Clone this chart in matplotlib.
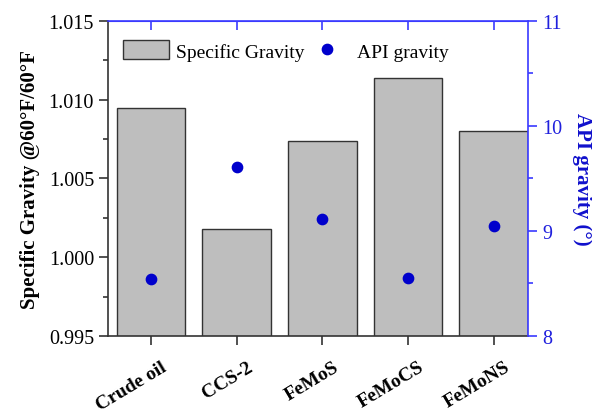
import matplotlib.pyplot as plt
import numpy as np

plt.rcParams['font.family'] = ['Liberation Serif', 'DejaVu Serif']

samples = ["Crude oil", "CCS-2", "FeMoS", "FeMoCS", "FeMoNS"]
specific_gravity = [1.00948, 1.00179, 1.00738, 1.01138, 1.00802]
api_gravity = [8.54, 9.61, 9.11, 8.55, 9.05]

blue = "#0000cc"
axis_blue = "#3a3aff"
dark = "#333333"

fig = plt.figure(figsize=(5.92, 4.14), dpi=100)
ax = fig.add_axes([0.1824, 0.186, 0.7095, 0.761])
x = np.arange(len(samples))

ax.bar(x, specific_gravity, width=0.8, color="#bebebe", edgecolor=dark,
       linewidth=1.0, label="Specific Gravity")
ax.set_ylim(0.995, 1.015)
ax.set_xlim(-0.5, 4.4)
ax.set_yticks([0.995, 1.000, 1.005, 1.010, 1.015])
ax.set_yticks(np.arange(0.9975, 1.015, 0.005), minor=True)
ax.yaxis.set_major_formatter(plt.FormatStrFormatter("%.3f"))
ax.set_xticks(x)
ax.set_xticklabels([])
# slanted category labels, shifted right of the tick like the original
for xi, name in zip(x, samples):
    ax.annotate(name, xy=(xi, 0), xycoords=("data", "axes fraction"),
                xytext=(7.5, -16), textcoords="offset points",
                ha="right", va="top", rotation=31, rotation_mode="anchor",
                fontsize=14, fontweight="bold")
ax.tick_params(axis="y", labelsize=14.5, direction="out", length=6.5, width=1.2, color=dark)
ax.tick_params(axis="y", which="minor", direction="out", length=3.5, width=1.2, color=dark)
ax.tick_params(axis="x", direction="out", length=6.5, width=1.2, color=dark)
ax.set_ylabel("Specific Gravity @60°F/60°F", fontsize=15, fontweight="bold", labelpad=6)

ax2 = ax.twinx()
ax2.scatter(x, api_gravity, s=55, color=blue, zorder=3, label="API gravity")
ax2.set_ylim(8, 11)
ax2.set_yticks([8, 9, 10, 11])
ax2.set_yticks([8.5, 9.5, 10.5], minor=True)
ax2.tick_params(axis="y", labelsize=14.5, colors=axis_blue, direction="out",
                length=6.5, width=1.2, labelcolor="#2020dd")
ax2.tick_params(axis="y", which="minor", colors=axis_blue, direction="out",
                length=3.5, width=1.2)
ax2.set_ylabel("API gravity (°)", fontsize=15, fontweight="bold", color="#1010cc",
               rotation=270, va="center", ha="center")
ax2.yaxis.set_label_coords(1.1286, 0.5)

# top ticks pointing inward
ax3 = ax.secondary_xaxis("top")
ax3.set_xticks(x)
ax3.set_xticklabels([])
ax3.tick_params(direction="in", length=6.5, width=1.2, color=axis_blue)
ax3.spines["top"].set_color(axis_blue)

for s in ["left", "bottom"]:
    ax.spines[s].set_color(dark)
    ax.spines[s].set_linewidth(1.2)
ax2.spines["right"].set_color(axis_blue)
ax2.spines["right"].set_linewidth(1.2)
ax2.spines["top"].set_color(axis_blue)
ax2.spines["top"].set_linewidth(1.2)
ax2.spines["left"].set_visible(False)
ax2.spines["bottom"].set_visible(False)
ax.spines["right"].set_visible(False)
ax.spines["top"].set_visible(False)

h1, l1 = ax.get_legend_handles_labels()
h2, l2 = ax2.get_legend_handles_labels()
ax.legend(h1 + h2, l1 + l2, loc="upper left", ncol=2, frameon=False,
          fontsize=14, handlelength=2.37, handleheight=1.13, columnspacing=0.0,
          handletextpad=0.33, bbox_to_anchor=(-0.01, 1.0), borderaxespad=0.6)

fig.savefig("out.png", dpi=100)
